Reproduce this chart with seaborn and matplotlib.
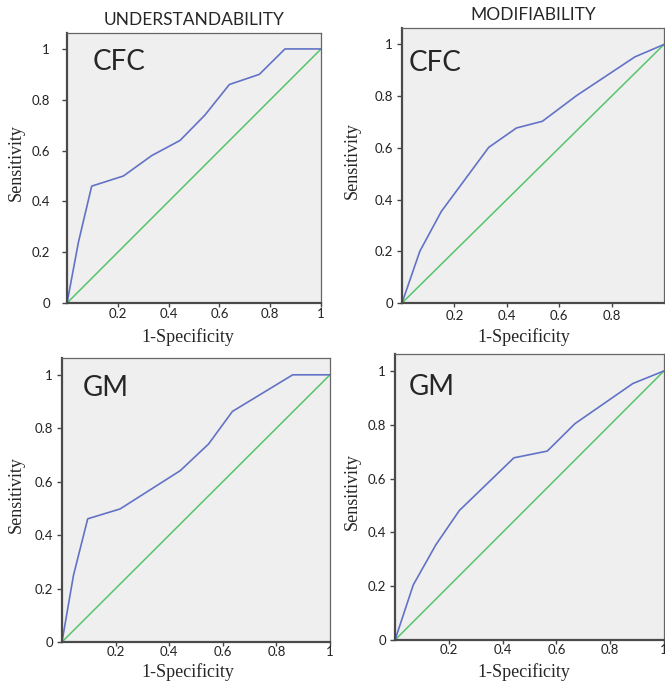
import pandas as pd
import seaborn as sns
import matplotlib.pyplot as plt

# ROC curves
und_cfc_x = [0, 0.045, 0.097, 0.222, 0.333, 0.445, 0.543, 0.639, 0.757, 0.858, 1.0]
und_cfc_y = [0, 0.24, 0.46, 0.50, 0.58, 0.64, 0.74, 0.86, 0.90, 1.0, 1.0]

mod_cfc_x = [0, 0.068, 0.150, 0.331, 0.437, 0.536, 0.666, 0.889, 1.0]
mod_cfc_y = [0, 0.20, 0.354, 0.602, 0.677, 0.703, 0.802, 0.952, 1.0]

und_gm_x = [0, 0.043, 0.096, 0.217, 0.441, 0.547, 0.636, 0.861, 1.0]
und_gm_y = [0, 0.25, 0.461, 0.498, 0.641, 0.741, 0.863, 1.0, 1.0]

mod_gm_x = [0, 0.068, 0.152, 0.239, 0.442, 0.566, 0.669, 0.884, 1.0]
mod_gm_y = [0, 0.205, 0.354, 0.481, 0.677, 0.702, 0.804, 0.953, 1.0]

ref_x = [0, 1]
ref_y = [0, 1]

titles = ['UNDERSTANDABILITY', 'MODIFIABILITY', None, None]
tags = ['CFC', 'CFC', 'GM', 'GM']
yticks = [0, 0.2, 0.4, 0.6, 0.8, 1.0]
ytick_labels = ['0', '0.2', '0.4', '0.6', '0.8', '1']

sns.set_style('white', {'axes.facecolor': '#efefef'})
plt.rcParams['font.family'] = ['Lato', 'DejaVu Sans']

fig = plt.figure(figsize=(6.65, 6.82), dpi=100)
boxes = [[0.1008, 0.5557, 0.382, 0.396],
         [0.6045, 0.5557, 0.394, 0.403],
         [0.0932, 0.0587, 0.403, 0.4164],
         [0.594, 0.0616, 0.4045, 0.4194]]
curves = [(und_cfc_x, und_cfc_y), (mod_cfc_x, mod_cfc_y),
          (und_gm_x, und_gm_y), (mod_gm_x, mod_gm_y)]
tag_pos = [(0.10, 0.95), (0.027, 0.93), (0.078, 0.95), (0.052, 0.94)]
xtick_sets = [[0.2, 0.4, 0.6, 0.8, 1.0], [0.2, 0.4, 0.6, 0.8],
              [0.2, 0.4, 0.6, 0.8, 1.0], [0.2, 0.4, 0.6, 0.8, 1.0]]
xpads = [0.3, 1.7, 0.0, 0.0]
ypads = [8.6, 2.9, 2.9, 2.9]
xlabel_xy = [(0.474, -0.093), (0.466, -0.091), (0.468, -0.074), (0.48, -0.080)]
ylabel_xy = [(-0.165, 0.52), (-0.156, 0.52), (-0.138, 0.52), (-0.126, 0.52)]

for i in range(4):
    ax = fig.add_axes(boxes[i])
    cx, cy = curves[i]
    df = pd.DataFrame({'fpr': cx, 'tpr': cy})
    ref = pd.DataFrame({'fpr': ref_x, 'tpr': ref_y})
    sns.lineplot(data=ref, x='fpr', y='tpr', color='#55c46a', linewidth=1.1, ax=ax)
    sns.lineplot(data=df, x='fpr', y='tpr', color='#6272c6', linewidth=1.2,
                 ax=ax, sort=False, estimator=None)
    ax.set_xlim(0, 1)
    ax.set_ylim(0, 1.063)
    ax.set_yticks(yticks)
    ax.set_yticklabels(ytick_labels)
    xt = xtick_sets[i]
    ax.set_xticks(xt)
    ax.set_xticklabels(['1' if v == 1.0 else '{:.1f}'.format(v) for v in xt])
    ax.tick_params(axis='both', width=1, color='#444444', labelcolor='#222222',
                   labelsize=9.5, direction='out', bottom=True, left=True)
    ax.tick_params(axis='x', pad=xpads[i], length=3)
    ax.tick_params(axis='y', pad=ypads[i], length=3.6)
    ax.set_xlabel('1-Specificity', family='Liberation Serif', fontsize=13)
    ax.set_ylabel('Sensitivity', family='Liberation Serif', fontsize=13)
    ax.xaxis.set_label_coords(*xlabel_xy[i])
    ax.yaxis.set_label_coords(*ylabel_xy[i])
    for s in ['left', 'bottom']:
        ax.spines[s].set_color('#4a4a4a')
        ax.spines[s].set_linewidth(1.6)
    for s in ['top', 'right']:
        ax.spines[s].set_color('#666666')
        ax.spines[s].set_linewidth(0.9)
        ax.spines[s].set_visible(True)
    if titles[i]:
        ax.set_title(titles[i], fontsize=12.5, pad=6)
    ax.text(tag_pos[i][0], tag_pos[i][1], tags[i], transform=ax.transData,
            fontsize=20, va='center', ha='left')

plt.savefig('out.png', dpi=100)
plt.close()
